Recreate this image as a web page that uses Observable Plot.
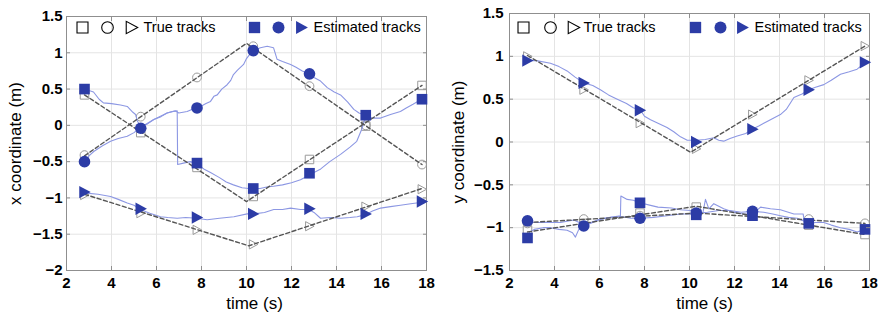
<!DOCTYPE html>
<html><head><meta charset="utf-8">
<script src="https://cdn.jsdelivr.net/npm/d3@7"></script>
<script src="https://cdn.jsdelivr.net/npm/@observablehq/plot@0.6"></script>
<style>
html,body{margin:0;padding:0;background:#fff;}
#wrap{display:flex;width:882px;height:321px;overflow:hidden;}
#wrap svg{display:block;}
</style></head><body><div id="wrap"></div>
<script>
// ---------- shared data ----------
const xTicks = [2, 4, 6, 8, 10, 12, 14, 16, 18];
const yTicksLeft = [-2, -1.5, -1, -0.5, 0, 0.5, 1, 1.5];
const yTicksRight = [-1.5, -1, -0.5, 0, 0.5, 1, 1.5];
const markTimes = [2.8, 5.3, 7.8, 10.3, 12.8, 15.3, 17.8];
const legendTrue = "True tracks";
const legendEst = "Estimated tracks";
const xLabel = "time (s)";
const yLabelLeft = "x coordinate (m)";
const yLabelRight = "y coordinate (m)";

// ---------- left panel: x coordinate ----------
const xTrueSquarePath = [[2.8, 0.42], [10.0, -1.05], [17.8, 0.55]];
const xTrueCirclePath = [[2.8, -0.42], [10.0, 1.13], [17.8, -0.54]];
const xTrueTriPath = [[2.8, -0.95], [10.1, -1.66], [17.8, -0.87]];
const xTrueSquare = [0.42, -0.1, -0.58, -0.98, -0.47, -0.01, 0.55];
const xTrueCircle = [-0.41, 0.12, 0.66, 1.09, 0.54, 0.0, -0.54];
const xTrueTri = [-0.96, -1.21, -1.44, -1.64, -1.39, -1.12, -0.88];
const xEstSquare = [0.5, null, -0.52, -0.87, -0.66, 0.14, 0.36];
const xEstCircle = [-0.5, -0.04, 0.24, 1.03, 0.71, null, null];
const xEstTri = [-0.92, -1.15, -1.27, -1.22, -1.15, -1.22, -1.05];
const xEstSquareLine = [[2.75,0.51],[3.0,0.48],[3.2,0.46],[3.45,0.36],[3.64,0.31],[4.0,0.3],[4.4,0.28],[4.7,0.26],[4.95,0.18],[5.07,0.15],[5.15,0.06],[5.3,-0.02],[5.6,0.02],[5.88,0.08],[6.2,0.12],[6.47,0.17],[6.7,0.19],[6.92,0.2],[6.94,-0.54],[7.2,-0.52],[7.5,-0.5],[7.78,-0.53],[8.1,-0.6],[8.4,-0.65],[8.8,-0.72],[9.1,-0.78],[9.42,-0.82],[9.8,-0.86],[10.1,-0.87],[10.3,-0.87],[10.6,-0.87],[10.9,-0.85],[11.2,-0.84],[11.6,-0.82],[12.0,-0.79],[12.4,-0.75],[12.7,-0.7],[12.77,-0.66],[13.0,-0.65],[13.3,-0.6],[13.7,-0.5],[14.18,-0.4],[14.6,-0.3],[14.9,-0.22],[15.14,-0.04],[15.29,0.13],[15.6,0.1],[15.96,0.1],[16.4,0.15],[16.84,0.19],[17.1,0.24],[17.4,0.29],[17.78,0.36]];
const xEstCircleLine = [[2.77,-0.5],[3.0,-0.42],[3.21,-0.36],[3.6,-0.28],[3.96,-0.22],[4.3,-0.18],[4.7,-0.15],[5.0,-0.1],[5.24,-0.04],[5.6,0.03],[5.88,0.08],[6.2,0.13],[6.47,0.17],[6.84,0.2],[6.99,0.17],[7.36,0.19],[7.73,0.24],[7.96,0.26],[8.2,0.3],[8.4,0.33],[8.55,0.4],[8.7,0.42],[8.9,0.5],[9.14,0.56],[9.3,0.62],[9.42,0.7],[9.6,0.76],[9.87,0.84],[10.0,0.92],[10.27,1.03],[10.62,1.07],[10.92,1.09],[11.2,1.07],[11.36,0.91],[11.6,0.88],[11.96,0.84],[12.2,0.8],[12.48,0.75],[12.76,0.71],[13.0,0.66],[13.29,0.61],[13.59,0.52],[13.9,0.46],[14.18,0.42],[14.5,0.32],[14.77,0.22],[15.0,0.17],[15.29,0.14]];
const xEstTriLine = [[2.77,-0.93],[3.4,-0.95],[3.96,-0.98],[4.3,-1.02],[4.7,-1.07],[5.0,-1.1],[5.29,-1.16],[5.7,-1.21],[6.18,-1.26],[6.5,-1.27],[6.92,-1.28],[7.3,-1.27],[7.78,-1.28],[8.25,-1.3],[8.8,-1.28],[9.44,-1.26],[10.03,-1.22],[10.33,-1.22],[10.8,-1.2],[11.21,-1.16],[11.6,-1.16],[11.96,-1.14],[12.4,-1.16],[12.77,-1.16],[13.0,-1.2],[13.29,-1.28],[13.7,-1.27],[14.18,-1.28],[14.6,-1.27],[14.92,-1.26],[15.29,-1.23],[15.6,-1.18],[15.96,-1.14],[16.4,-1.12],[16.84,-1.1],[17.3,-1.08],[17.8,-1.06]];

// ---------- right panel: y coordinate ----------
const yTrueSquarePath = [[2.8, -1.05], [10.3, -0.75], [17.8, -1.08]];
const yTrueCirclePath = [[2.8, -0.94], [10.3, -0.83], [17.8, -0.95]];
const yTrueTriPath = [[2.8, 1.01], [10.05, -0.12], [17.8, 1.12]];
const yTrueSquare = [-1.03, -0.95, -0.83, -0.76, -0.86, -0.97, -1.08];
const yTrueCircle = [-0.95, -0.9, -0.86, -0.83, -0.85, -0.9, -0.95];
const yTrueTri = [1.0, 0.61, 0.22, -0.08, 0.32, 0.72, 1.12];
const yEstSquare = [-1.12, null, -0.71, -0.85, -0.86, -0.95, -1.02];
const yEstCircle = [-0.92, -0.98, -0.89, -0.83, -0.81, null, null];
const yEstTri = [0.95, 0.69, 0.37, 0.0, 0.15, 0.61, 0.93];
const yEstSquareLine = [[2.76,-1.12],[2.9,-1.05],[3.1,-1.02],[3.5,-1.0],[3.82,-1.0],[4.2,-1.02],[4.56,-1.03],[4.8,-1.06],[4.93,-1.11],[5.08,-1.02],[5.3,-0.98],[5.7,-0.94],[6.04,-0.9],[6.5,-0.88],[6.93,-0.86],[6.95,-0.63],[7.23,-0.67],[7.5,-0.68],[7.8,-0.71],[8.27,-0.74],[8.6,-0.76],[9.2,-0.77],[9.6,-0.79],[10.04,-0.8],[10.3,-0.84],[10.6,-0.82],[10.71,-0.67],[10.86,-0.78],[11.08,-0.72],[11.52,-0.78],[11.97,-0.82],[12.4,-0.84],[12.8,-0.84],[13.16,-0.76],[13.6,-0.78],[14.04,-0.79],[14.64,-0.84],[15.05,-0.84],[15.1,-0.92],[15.3,-0.95],[15.6,-0.94],[15.97,-0.94],[16.3,-0.97],[16.71,-1.0],[17.1,-1.02],[17.45,-1.05],[17.8,-1.02]];
const yEstCircleLine = [[2.76,-0.92],[3.1,-0.94],[3.6,-0.94],[4.27,-0.94],[4.86,-0.91],[5.1,-0.94],[5.3,-0.98],[5.7,-0.93],[6.04,-0.9],[6.5,-0.88],[6.93,-0.87],[7.4,-0.89],[7.8,-0.89],[8.4,-0.88],[9.0,-0.86],[9.6,-0.84],[10.04,-0.84],[10.3,-0.83],[10.8,-0.82],[11.3,-0.8],[11.8,-0.8],[12.3,-0.82],[12.8,-0.81],[13.3,-0.82],[13.7,-0.84],[14.04,-0.86],[14.4,-0.88],[14.79,-0.89],[15.05,-0.92],[15.3,-0.95]];
const yEstTriLine = [[2.79,0.95],[3.2,0.95],[3.82,0.92],[4.2,0.88],[4.56,0.83],[4.9,0.76],[5.3,0.69],[5.7,0.66],[6.04,0.61],[6.4,0.55],[6.79,0.5],[7.2,0.45],[7.5,0.4],[7.82,0.37],[8.0,0.3],[8.27,0.26],[8.6,0.22],[9.0,0.17],[9.3,0.12],[9.6,0.06],[9.9,0.02],[10.31,0.02],[10.7,0.03],[11.08,0.05],[11.3,0.02],[11.52,0.01],[11.8,0.04],[12.12,0.07],[12.5,0.1],[12.79,0.15],[13.1,0.19],[13.45,0.24],[14.04,0.32],[14.3,0.38],[14.64,0.52],[15.0,0.56],[15.3,0.61],[15.6,0.64],[15.97,0.67],[16.3,0.72],[16.71,0.79],[17.1,0.82],[17.45,0.85],[17.82,0.93]];

// ---------- styling ----------
const EST = "#2c3ca6", EST_LINE = "#8c97e3", TRUE_LINE = "#555", TRUE_MARK = "#9a9a9a";
const triRight = {draw(ctx, size) { const r = Math.sqrt(size / Math.PI); ctx.moveTo(1.0 * r, 0); ctx.lineTo(-0.85 * r, -r); ctx.lineTo(-0.85 * r, r); ctx.closePath(); }};
const fmt = d => (d < 0 ? "\u2212" : "") + Math.abs(d);
const rows = vals => markTimes.map((t, i) => ({t, v: vals[i]})).filter(d => d.v != null);
const XY = {x: d => d[0], y: d => d[1]};

function panel(o) {
  const symR = {square: 6, circle: 5.8, tri: 6.2};
  const trueR = {square: 4.8, circle: 4.4, tri: 4.6};
  const L = o.leg;
  const legText = (s, dx) => Plot.text([s], {frameAnchor: "top-left", dx, dy: L.y, text: d => d, textAnchor: "start", lineAnchor: "middle", fontSize: 14.5});
  return Plot.plot({
    width: o.width, height: 321,
    marginLeft: o.ml, marginRight: o.mr, marginTop: o.mt, marginBottom: 51,
    x: {domain: [2, 18]},
    y: {domain: o.yDomain},
    style: {fontFamily: "'Liberation Sans', Arial, Helvetica, sans-serif", background: "white", overflow: "visible", color: "black"},
    marks: [
      Plot.gridX(xTicks, {stroke: "#e4e4e4", strokeOpacity: 1}),
      Plot.gridY(o.yTicks, {stroke: "#e4e4e4", strokeOpacity: 1}),
      Plot.frame({stroke: "#8f8f8f"}),
      // true markers (open)
      Plot.dot(rows(o.trueSquare), {x: "t", y: "v", symbol: "square", r: trueR.square, stroke: TRUE_MARK, fill: "none", strokeWidth: 1}),
      Plot.dot(rows(o.trueCircle), {x: "t", y: "v", symbol: "circle", r: trueR.circle, stroke: TRUE_MARK, fill: "none", strokeWidth: 1}),
      Plot.dot(rows(o.trueTri), {x: "t", y: "v", symbol: triRight, r: trueR.tri, stroke: TRUE_MARK, fill: "none", strokeWidth: 1}),
      // estimated lines
      ...o.estLines.map(l => Plot.line(l, {...XY, stroke: EST_LINE, strokeWidth: 1.1, curve: "linear"})),
      // true dashed lines
      ...o.truePaths.map(l => Plot.line(l, {...XY, stroke: TRUE_LINE, strokeWidth: 1.4, strokeDasharray: "4,2.6"})),
      // estimated markers
      Plot.dot(rows(o.estSquare), {x: "t", y: "v", symbol: "square", r: symR.square, fill: EST}),
      Plot.dot(rows(o.estCircle), {x: "t", y: "v", symbol: "circle", r: symR.circle, fill: EST}),
      Plot.dot(rows(o.estTri), {x: "t", y: "v", symbol: triRight, r: symR.tri, fill: EST}),
      // legend
      Plot.dot([0], {frameAnchor: "top-left", dx: L.s1, dy: L.y, symbol: "square", r: 6.2, stroke: "black", fill: "none", strokeWidth: 1.1}),
      Plot.dot([0], {frameAnchor: "top-left", dx: L.c1, dy: L.y, symbol: "circle", r: 5.8, stroke: "black", fill: "none", strokeWidth: 1.1}),
      Plot.dot([0], {frameAnchor: "top-left", dx: L.t1, dy: L.y, symbol: triRight, r: 6.2, stroke: "black", fill: "none", strokeWidth: 1.1}),
      legText(legendTrue, L.tx1),
      Plot.dot([0], {frameAnchor: "top-left", dx: L.s2, dy: L.y, symbol: "square", r: 6.4, fill: EST}),
      Plot.dot([0], {frameAnchor: "top-left", dx: L.c2, dy: L.y, symbol: "circle", r: 6, fill: EST}),
      Plot.dot([0], {frameAnchor: "top-left", dx: L.t2, dy: L.y, symbol: triRight, r: 6.4, fill: EST}),
      legText(legendEst, L.tx2),
      // axes
      Plot.axisX(xTicks, {anchor: "bottom", tickSize: -4, tickPadding: 11, fontSize: 15, fontWeight: "bold", tickFormat: fmt, label: null, stroke: "#8f8f8f"}),
      Plot.axisX(xTicks, {anchor: "top", tickSize: -4, tickFormat: () => "", label: null, stroke: "#8f8f8f"}),
      Plot.axisY(o.yTicks, {anchor: "left", tickSize: -4, tickPadding: o.yPad, fontSize: 15, fontWeight: "bold", tickFormat: fmt, label: null, stroke: "#8f8f8f"}),
      Plot.axisY(o.yTicks, {anchor: "right", tickSize: -4, tickFormat: () => "", label: null, stroke: "#8f8f8f"}),
      // axis titles
      Plot.text([o.ylabel], {frameAnchor: "left", dx: o.ylabDx, rotate: -90, text: d => d, textAnchor: "middle", lineAnchor: "middle", fontSize: 17}),
      Plot.text([xLabel], {frameAnchor: "bottom", dx: o.xlabDx, dy: 33, text: d => d, textAnchor: "middle", lineAnchor: "middle", fontSize: 17})
    ]
  });
}

const wrap = document.getElementById("wrap");
wrap.append(panel({
  width: 440, ml: 66, mr: 14, mt: 16,
  yDomain: [-2, 1.5], yTicks: yTicksLeft, yPad: 8,
  ylabel: yLabelLeft, ylabDx: -51, xlabDx: 8,
  truePaths: [xTrueSquarePath, xTrueCirclePath, xTrueTriPath],
  trueSquare: xTrueSquare, trueCircle: xTrueCircle, trueTri: xTrueTri,
  estLines: [xEstSquareLine, xEstCircleLine, xEstTriLine],
  estSquare: xEstSquare, estCircle: xEstCircle, estTri: xEstTri,
  leg: {y: 11, s1: 16, c1: 41, t1: 65, tx1: 77, s2: 188, c2: 212, t2: 235, tx2: 247}
}));
wrap.append(panel({
  width: 442, ml: 69, mr: 13, mt: 13,
  yDomain: [-1.5, 1.5], yTicks: yTicksRight, yPad: 10,
  ylabel: yLabelRight, ylabDx: -51, xlabDx: 15,
  truePaths: [yTrueSquarePath, yTrueCirclePath, yTrueTriPath],
  trueSquare: yTrueSquare, trueCircle: yTrueCircle, trueTri: yTrueTri,
  estLines: [yEstSquareLine, yEstCircleLine, yEstTriLine],
  estSquare: yEstSquare, estCircle: yEstCircle, estTri: yEstTri,
  leg: {y: 14, s1: 14, c1: 41, t1: 64, tx1: 74, s2: 186, c2: 211, t2: 233, tx2: 245}
}));
</script>
</body></html>
